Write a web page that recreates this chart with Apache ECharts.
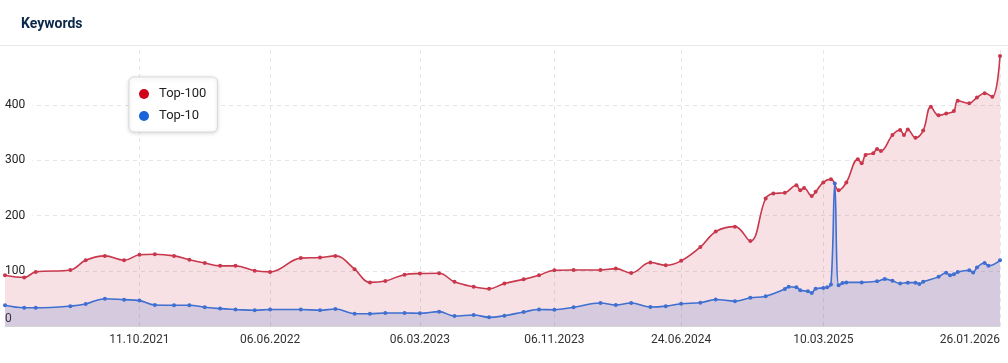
<!DOCTYPE html>
<html><head><meta charset="utf-8">
<script src="https://cdn.jsdelivr.net/npm/echarts@6/dist/echarts.min.js"></script>
<style>html,body{margin:0;padding:0;background:#fff}#c{width:1008px;height:363px}</style>
</head><body><div id="c"></div>
<script>
const top100Dates = ['2021-02-08','2021-03-15','2021-04-05','2021-06-07','2021-07-05','2021-08-09','2021-09-13','2021-10-11','2021-11-08','2021-12-13',
'2022-01-10','2022-02-07','2022-03-07','2022-04-04','2022-05-09','2022-06-06','2022-08-01','2022-09-05','2022-10-03','2022-11-07','2022-12-05',
'2023-01-02','2023-02-06','2023-03-06','2023-04-10','2023-05-08','2023-06-12','2023-07-10','2023-08-07','2023-09-11','2023-10-09','2023-11-06','2023-12-11',
'2024-01-29','2024-02-26','2024-03-25','2024-04-29','2024-05-27','2024-06-24','2024-07-29','2024-08-26','2024-09-30','2024-10-28','2024-11-25','2024-12-09','2024-12-30',
'2025-01-20','2025-01-27','2025-02-03','2025-02-17','2025-02-24','2025-03-10','2025-03-24','2025-04-07','2025-04-21','2025-05-12','2025-05-19','2025-05-26',
'2025-06-09','2025-06-16','2025-06-23','2025-07-14','2025-07-28','2025-08-04','2025-08-11','2025-08-25','2025-09-08','2025-09-22','2025-10-06','2025-10-20',
'2025-11-03','2025-11-10','2025-12-01','2025-12-15','2025-12-29','2026-01-12','2026-01-26'];
const top100 = [92,88,98,101.5,119,127,119,129,130,127,
120,114,109,109,100,98,123,124,127,103,79,
81.5,93,95,95.5,80,71,67.5,77,84.5,92,101,101.5,
101.5,104,96,115,110,118,143,171,180,154,231,240,241.5,
255,246,250,235.5,243,260,266,246,260,302,295,310,
313,320.6,317,346,355,346,356,341,354,397,381.6,385,
389.5,408,403.5,414,421.6,415.4,489];

const top10Dates = ['2021-02-08','2021-03-15','2021-04-05','2021-06-07','2021-07-05','2021-08-09','2021-09-13','2021-10-11','2021-11-08','2021-12-13',
'2022-01-10','2022-02-07','2022-03-07','2022-04-04','2022-05-09','2022-06-06','2022-08-01','2022-09-05','2022-10-03','2022-11-07','2022-12-05',
'2023-01-02','2023-02-06','2023-03-06','2023-04-10','2023-05-08','2023-06-12','2023-07-10','2023-08-07','2023-09-11','2023-10-09','2023-11-06','2023-12-11',
'2024-01-29','2024-02-26','2024-03-25','2024-04-29','2024-05-27','2024-06-24','2024-07-29','2024-08-26','2024-09-30','2024-10-28','2024-11-25','2024-12-30',
'2025-01-06','2025-01-20','2025-01-27','2025-02-10','2025-02-17','2025-02-24','2025-03-10','2025-03-17','2025-03-24','2025-03-31','2025-04-07','2025-04-14','2025-04-21',
'2025-05-19','2025-06-16','2025-06-30','2025-07-14','2025-07-28','2025-08-11','2025-08-25','2025-09-01','2025-09-08','2025-10-06','2025-10-20','2025-10-27',
'2025-11-03','2025-11-10','2025-12-01','2025-12-08','2025-12-15','2025-12-29','2026-01-05','2026-01-26'];
const top10 = [37.5,33,33,36,40,49.5,47.7,46,38,37.5,
37.5,34,31.5,30,28.4,30,30,28.4,30.8,22.3,22.3,
23.5,23.5,23,26,18,20,15.7,18.7,25.4,30,29.5,34,
41.7,38,41.7,34.4,36,40.4,42,48,45,51,54,67,
71,70,64.7,63,60,67.6,69,70,75,258,74,78,79,
79,81,85,82,77,78.5,78.5,76,80,89,96.6,92,
93.6,97.8,101,97,106,114,109,119];

const xTickDates = ['2021-10-11','2022-06-06','2023-03-06','2023-11-06','2024-06-24','2025-03-10','2026-01-26'];
const xTickLabels = ['11.10.2021','06.06.2022','06.03.2023','06.11.2023','24.06.2024','10.03.2025','26.01.2026'];
const yTicks = [0,100,200,300,400];

const ts = s => { const p = s.split('-').map(Number); return Date.UTC(p[0], p[1]-1, p[2]); };
const tickTs = xTickDates.map(ts);

const chart = echarts.init(document.getElementById('c'), null, {renderer:'canvas'});
const FONT = 'Roboto, "Noto Sans", sans-serif';
chart.setOption({
  animation:false,
  textStyle:{fontFamily:FONT},
  title:{text:'Keywords', left:16, top:12, textStyle:{fontSize:14, fontWeight:'bold', color:'#0b274a', fontFamily:FONT}},
  graphic:[{type:'line', shape:{x1:0,y1:45.5,x2:1008,y2:45.5}, style:{stroke:'#e8e8e8', lineWidth:1}, z:100}],
  legend:{
    orient:'vertical', left:129, top:77, icon:'circle', itemWidth:20, itemHeight:10, itemGap:8,
    padding:[10,11,9,10], backgroundColor:'#fff', borderColor:'#d9d9d9', borderWidth:1, borderRadius:5,
    shadowBlur:4, shadowColor:'rgba(0,0,0,0.15)', shadowOffsetY:1,
    textStyle:{fontSize:13, color:'#222', fontFamily:FONT, lineHeight:14},
    data:[{name:'Top-100', itemStyle:{color:'#d0021b'}},{name:'Top-10', itemStyle:{color:'#1565d8'}}]
  },
  grid:{left:5, right:8, top:50, bottom:37, containLabel:false, outerBoundsMode:'none'},
  xAxis:{
    type:'value', min:ts(top100Dates[0]), max:ts(top100Dates[top100Dates.length-1]),
    axisLine:{lineStyle:{color:'#d4d4d4'}},
    axisTick:{show:false, customValues:tickTs},
    splitLine:{show:true, lineStyle:{color:'#e6e6e6', type:[4,4]}},
    axisLabel:{customValues:tickTs, color:'#333', fontSize:12, margin:8, fontFamily:FONT, alignMaxLabel:'right', hideOverlap:false,
      formatter:v=>{ let best=0; tickTs.forEach((t,i)=>{ if(Math.abs(t-v)<Math.abs(tickTs[best]-v)) best=i; }); return xTickLabels[best]; }}
  },
  yAxis:{
    type:'value', min:0, max:500, interval:100,
    axisLine:{show:false}, axisTick:{show:false},
    splitLine:{show:true, lineStyle:{color:['#e6e6e6','#e6e6e6','#e6e6e6','#e6e6e6','#e6e6e6','rgba(0,0,0,0)'], type:[4,4]}},
    axisLabel:{inside:true, margin:0, color:'#222', fontSize:12, fontFamily:FONT, showMaxLabel:false,
      formatter:v=> yTicks.indexOf(v)<0 ? '' : (v===0 ? '{z|0}' : '{w|'+v+'}'),
      rich:{ z:{padding:[0,0,14,0], color:'#222', fontSize:12, fontFamily:FONT},
             w:{backgroundColor:'#fff', padding:[0,7,0,0], color:'#222', fontSize:12, fontFamily:FONT} }
    }
  },
  series:[
    {name:'Top-100', type:'line', smooth:0.4, symbol:'circle', symbolSize:4, showSymbol:true,
     data: top100Dates.map((d,i)=>[ts(d), top100[i]]),
     lineStyle:{color:'#c9374c', width:1.6}, itemStyle:{color:'#c9374c'},
     areaStyle:{color:'rgba(201,55,76,0.21)'}, z:2},
    {name:'Top-10', type:'line', smooth:0.4, symbol:'circle', symbolSize:4, showSymbol:true,
     data: top10Dates.map((d,i)=>[ts(d), top10[i]]),
     lineStyle:{color:'#3f6fd1', width:1.6}, itemStyle:{color:'#3f6fd1'},
     areaStyle:{color:'rgba(63,95,200,0.25)'}, z:3}
  ]
});
</script>
</body></html>
